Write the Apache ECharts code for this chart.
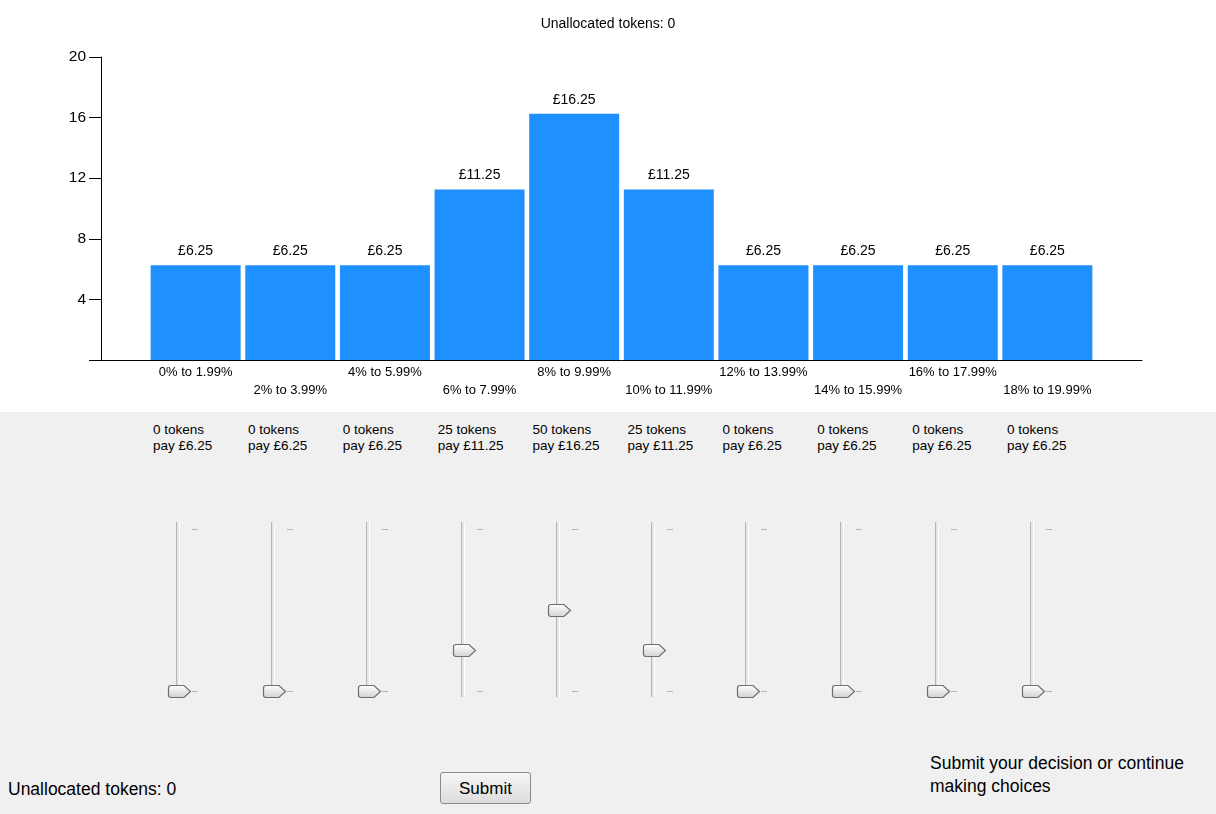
<!DOCTYPE html>
<html>
<head>
<meta charset="utf-8">
<script src="https://cdn.jsdelivr.net/npm/echarts@6/dist/echarts.min.js"></script>
<style>
html, body { margin: 0; padding: 0; width: 1216px; height: 814px; overflow: hidden; background: #f0f0f0; font-family: 'Liberation Sans', Arial, sans-serif; }
#chart { position: absolute; left: 0; top: 0; width: 1216px; height: 412px; background: #fff; }
.lbl { position: absolute; font-size: 13.5px; line-height: 16px; color: #000; white-space: nowrap; }
.track { position: absolute; top: 522px; height: 175px; width: 2px; background: #e6e6e6; border-left: 1px solid #b4b4b4; border-right: 1px solid #fff; }
.tick { position: absolute; width: 6px; height: 1px; background: #b4b4b4; }
.thumb { position: absolute; width: 25px; height: 15px; }
.bottom { position: absolute; font-size: 17.5px; line-height: 23px; color: #000; white-space: nowrap; }
#submit { position: absolute; left: 440px; top: 772px; width: 89px; height: 30px; border: 1px solid #8a8a8a; border-radius: 3px; background: linear-gradient(#f6f6f6, #dcdcdc); font-size: 17px; line-height: 32px; text-align: center; }
</style>
</head>
<body>
<div id="chart"></div>
<div id="form"></div>
<div class="bottom" style="left:8px;top:778px;">Unallocated tokens: 0</div>
<div id="submit">Submit</div>
<div class="bottom" style="left:930px;top:752px;">Submit your decision or continue<br>making choices</div>
<script>
// 区间标签
const ranges = ['0% to 1.99%', '2% to 3.99%', '4% to 5.99%', '6% to 7.99%', '8% to 9.99%',
	'10% to 11.99%', '12% to 13.99%', '14% to 15.99%', '16% to 17.99%', '18% to 19.99%'];
// 每个区间的报酬 (£)
const payValues = [6.25, 6.25, 6.25, 11.25, 16.25, 11.25, 6.25, 6.25, 6.25, 6.25];
// 每个滑块分配的 token
const tokens = [0, 0, 0, 25, 50, 25, 0, 0, 0, 0];
const tokenMax = 100;
const yTicks = [0, 4, 8, 12, 16, 20];

// 两端留空的类目，让柱子落在刻度上
const cats = [''].concat(ranges, ['']);
const barData = [null].concat(payValues, [null]);

const myEcharts = echarts.init(document.getElementById('chart'));
myEcharts.setOption({
	animation: false,
	title: {
		text: 'Unallocated tokens: 0',
		left: 'center',
		top: 12,
		textStyle: { fontSize: 14, fontWeight: 'normal', color: '#000', fontFamily: 'Liberation Sans' },
	},
	grid: { left: 101, right: 74, top: 57, bottom: 52 },
	xAxis: {
		type: 'category',
		data: cats,
		boundaryGap: false,
		axisLine: { show: true, lineStyle: { color: '#000', width: 1 } },
		axisTick: { show: false },
		axisLabel: {
			interval: 0,
			margin: 3,
			fontSize: 13,
			lineHeight: 18,
			color: '#000',
			fontFamily: 'Liberation Sans',
			formatter: (val, idx) => (idx % 2 === 0 && val ? '\n' + val : val),
		},
	},
	yAxis: {
		type: 'value',
		min: yTicks[0],
		max: yTicks[yTicks.length - 1],
		interval: 4,
		axisLine: { show: true, lineStyle: { color: '#000', width: 1 } },
		axisTick: { show: true, length: 12, lineStyle: { color: '#000' } },
		splitLine: { show: false },
		axisLabel: {
			margin: 15,
			fontSize: 15.5,
			color: '#000',
			fontFamily: 'Liberation Sans',
			formatter: v => (v === 0 ? '' : v),
		},
	},
	series: [{
		type: 'bar',
		data: barData,
		barWidth: 90,
		itemStyle: { color: '#1e90ff' },
		label: {
			show: true,
			position: 'top',
			distance: 7,
			fontSize: 14,
			color: '#000',
			fontFamily: 'Liberation Sans',
			formatter: p => '£' + p.value.toFixed(2),
		},
	}],
});

// 下方滑块表单
const form = document.getElementById('form');
const pitch = 94.9;
const thumbSvg = '<svg width="25" height="15" viewBox="0 0 25 15"><defs><linearGradient id="g" x1="0" y1="0" x2="0" y2="1">' +
	'<stop offset="0" stop-color="#ffffff"/><stop offset="1" stop-color="#d2d2d2"/></linearGradient></defs>' +
	'<path d="M1.5,4 Q1.5,1.5 4,1.5 L17,1.5 L23.5,7.5 L17,13.5 L4,13.5 Q1.5,13.5 1.5,11 Z" fill="url(#g)" stroke="#6e6e6e" stroke-width="1.2"/></svg>';
tokens.forEach((t, i) => {
	const left = 153 + i * pitch;
	const trackX = 177 + i * pitch;
	let html = '<div class="lbl" style="left:' + left + 'px;top:422px;">' + t + ' tokens<br>pay £' + payValues[i].toFixed(2) + '</div>';
	html += '<div class="track" style="left:' + (trackX - 1) + 'px;"></div>';
	html += '<div class="tick" style="left:' + (trackX + 15) + 'px;top:529px;"></div>';
	html += '<div class="tick" style="left:' + (trackX + 15) + 'px;top:691px;"></div>';
	const thumbY = 691 - (t / tokenMax) * 162;
	html += '<div class="thumb" style="left:' + (trackX - 10) + 'px;top:' + (thumbY - 7.5) + 'px;">' + thumbSvg + '</div>';
	form.insertAdjacentHTML('beforeend', html);
});
</script>
</body>
</html>
